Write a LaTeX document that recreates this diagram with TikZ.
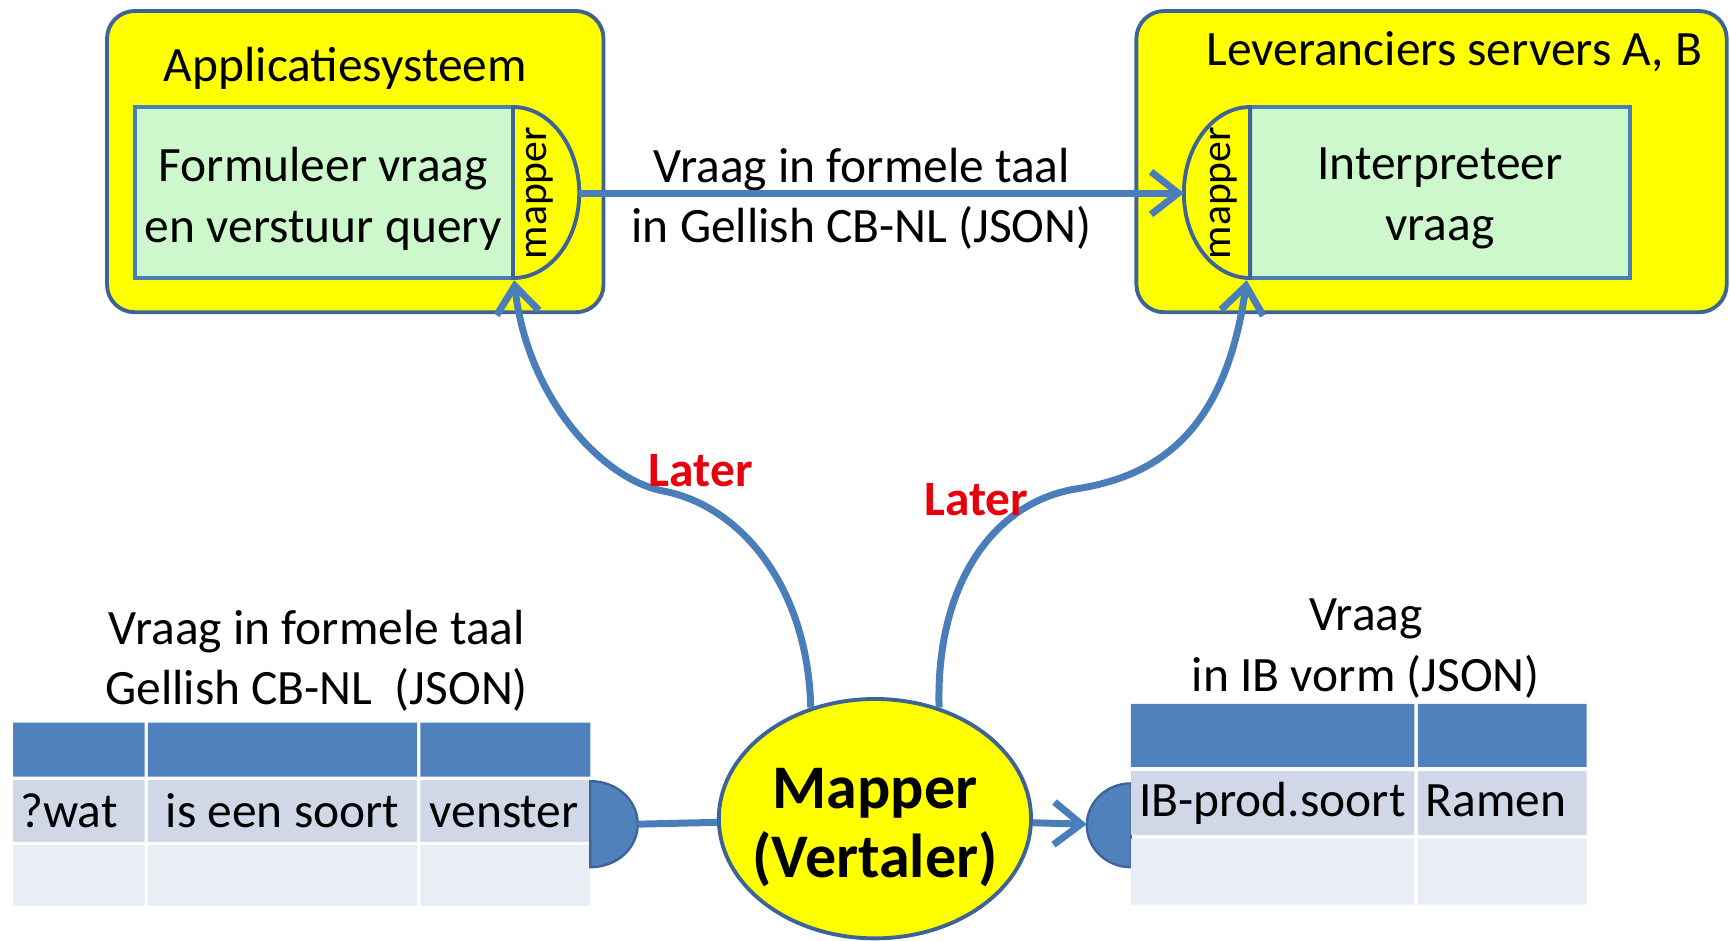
\documentclass[tikz,border=0pt]{standalone}
\usepackage{fontspec}
\setmainfont{Carlito}
\usetikzlibrary{arrows.meta,shapes.geometric}
\definecolor{ybox}{HTML}{FFFF00}
\definecolor{edge}{HTML}{3D6494}
\definecolor{lblue}{HTML}{4A7EBB}
\definecolor{gfill}{HTML}{CCF8CC}
\definecolor{thead}{HTML}{4F81BD}
\definecolor{trow}{HTML}{D0D8E8}
\definecolor{trowb}{HTML}{E9EDF4}
\definecolor{lred}{HTML}{E8000B}
\newcommand\nsize{\fontsize{25.5}{31.2}\selectfont}
\begin{document}
\begin{tikzpicture}[x=0.02cm,y=-0.02cm,
  sysbox/.style={draw=edge, fill=ybox, line width=2pt, rounded corners=0.5cm},
  grbox/.style={draw=lblue, fill=gfill, line width=2pt},
  dshape/.style={draw=edge, fill=ybox, line width=2pt},
  lbl/.style={font=\nsize, align=center, inner sep=0pt},
  celltxt/.style={font=\nsize, anchor=base west, inner sep=0pt},
  maptxt/.style={font=\fontsize{21.5}{25}\selectfont, rotate=90, inner sep=0pt},
  later/.style={font=\nsize\bfseries, text=lred, inner sep=0pt},
  flow/.style={draw=lblue, line width=3.6pt, -{Straight Barb[length=14pt,width=22pt]}},
  link/.style={draw=lblue, line width=3.6pt},
  disc/.style={draw=edge, fill=thead, line width=1.2pt},
]
\fill[white] (0,0) rectangle (1568,852);
\useasboundingbox (0,0) rectangle (1568,852);

% system boxes
\draw[sysbox] (97,10) rectangle (547,283);
\draw[sysbox] (1030,10) rectangle (1565,283);

% inner boxes
\draw[grbox] (122,97) rectangle (465,252);
\draw[dshape] (465,97) .. controls (498,97) and (525,132) .. (525,175) .. controls (525,218) and (498,252) .. (465,252) -- cycle;
\draw[grbox] (1133,97) rectangle (1477,252);
\draw[dshape] (1133,97) .. controls (1100,97) and (1073,132) .. (1073,175) .. controls (1073,218) and (1100,252) .. (1133,252) -- cycle;

\coordinate (lmapR) at (525,175);
\coordinate (rmapL) at (1073,175);
\coordinate (lmapB) at (466,254);
\coordinate (rmapB) at (1130,254);

\node[maptxt] (lmaptxt) at (489,175) {mapper};
\node[maptxt] (rmaptxt) at (1109,175) {mapper};

\node[lbl] (apptitle) at (313,62) {Applicatiesysteem};
\node[lbl] (levtitle) at (1318,47) {Leveranciers servers A, B};
\node[lbl] (formtxt) at (293,180) {Formuleer vraag\\en verstuur query};
\node[lbl] (interp) at (1305,180) {Interpreteer\\vraag};
\node[lbl] (msglbl) at (781,180) {Vraag in formele taal\\in Gellish CB-NL (JSON)};

% left table
\node[lbl] (lttitle) at (287,599) {Vraag in formele taal\\Gellish CB-NL\ \ (JSON)};
\fill[thead] (12,655) rectangle (131,704) (134,655) rectangle (378,704) (381,655) rectangle (535,704);
\fill[trow] (12,707) rectangle (131,763) (134,707) rectangle (378,763) (381,707) rectangle (535,763);
\fill[trowb] (12,766) rectangle (131,821) (134,766) rectangle (378,821) (381,766) rectangle (535,821);
\node[celltxt] (c11) at (18,750) {?wat};
\node[celltxt] (c12) at (150,750) {is een soort};
\node[celltxt] (c13) at (389,750) {venster};
\draw[disc] (535,708) .. controls (559,708) and (578,725) .. (578,747) .. controls (578,769) and (559,786) .. (535,786) -- cycle;
\coordinate (ldisc) at (578,747);

% right table
\node[lbl] (rttitle) at (1238,588) {Vraag\\in IB vorm (JSON)};
\draw[disc] (1025,710) .. controls (1003,710) and (985,727) .. (985,748) .. controls (985,769) and (1003,786) .. (1025,786) -- cycle;
\coordinate (rdisc) at (985,747);
\fill[thead] (1025,638) rectangle (1282,695) (1285,638) rectangle (1438,695);
\fill[trow] (1025,699) rectangle (1282,757) (1285,699) rectangle (1438,757);
\fill[trowb] (1025,760) rectangle (1282,820) (1285,760) rectangle (1438,820);
\node[celltxt] (c21) at (1032,740) {IB-prod.soort};
\node[celltxt] (c22) at (1292,740) {Ramen};

% mapper ellipse
\node[draw=edge, fill=ybox, ellipse, line width=2pt, minimum width=5.66cm, minimum height=4.34cm, inner sep=0pt] (mapperc) at (793,742) {};
\node[font=\fontsize{32}{35.5}\selectfont\bfseries, align=center, inner sep=0pt] (mappertxt) at (793,750) {Mapper\\(Vertaler)};

% connectors
\draw[flow] (lmapR) -- (rmapL);
\draw[link] (ldisc) -- (mapperc);
\draw[flow] (mapperc) -- (rdisc);
\draw[flow] (mapperc.120) .. controls (732,530) and (670,458) .. (601,445) .. controls (545,434) and (478,360) .. (lmapB);
\draw[flow] (mapperc.60) .. controls (848,530) and (900,455) .. (976,443) .. controls (1060,430) and (1112,380) .. (rmapB);

\node[later] (later1) at (635,427) {Later};
\node[later] (later2) at (885,453) {Later};
\end{tikzpicture}
\end{document}
